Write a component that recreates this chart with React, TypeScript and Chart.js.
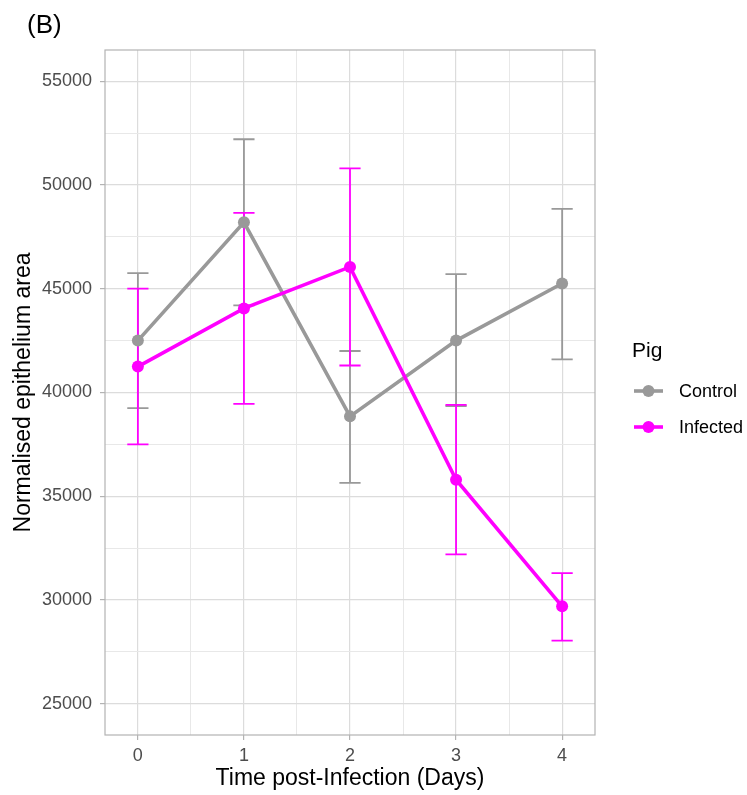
import React, { useEffect, useRef } from "react";
import { Chart, registerables } from "chart.js";

Chart.register(...registerables);

const days = [0, 1, 2, 3, 4];
const controlMean = [42500, 48200, 38850, 42500, 45250];
const controlUpper = [45750, 52200, 42000, 45700, 48850];
const controlLower = [39250, 44200, 35650, 39350, 41600];
const infectedMean = [41250, 44050, 46050, 35800, 29700];
const infectedUpper = [45000, 48650, 50800, 39400, 31300];
const infectedLower = [37500, 39450, 41300, 32200, 28050];

const xMajorTicks = [0, 1, 2, 3, 4];
const xMinorTicks = [0.5, 1.5, 2.5, 3.5];
const yMajorTicks = [25000, 30000, 35000, 40000, 45000, 50000, 55000];
const yMinorTicks = [27500, 32500, 37500, 42500, 47500, 52500];

const seriesNames = ["Control", "Infected"];
const seriesColors = ["#999999", "#ff00ff"];

const FONT = "'Liberation Sans', Arial, Helvetica, sans-serif";

export default function App() {
  const ref = useRef<HTMLCanvasElement>(null);

  useEffect(() => {
    document.body.style.margin = "0";
    const canvas = ref.current!;
    const series = [
      { mean: controlMean, up: controlUpper, lo: controlLower },
      { mean: infectedMean, up: infectedUpper, lo: infectedLower },
    ];

    const errorBars = {
      id: "errorBars",
      beforeDatasetsDraw(chart: any) {
        const ctx = chart.ctx;
        const xs = chart.scales.x;
        const ys = chart.scales.y;
        ctx.save();
        series.forEach((s, si) => {
          ctx.strokeStyle = seriesColors[si];
          ctx.lineWidth = 1.8;
          days.forEach((d, i) => {
            const x = xs.getPixelForValue(d);
            const xl = xs.getPixelForValue(d - 0.1);
            const xr = xs.getPixelForValue(d + 0.1);
            const yu = ys.getPixelForValue(s.up[i]);
            const yl = ys.getPixelForValue(s.lo[i]);
            ctx.beginPath();
            ctx.moveTo(x, yu);
            ctx.lineTo(x, yl);
            ctx.moveTo(xl, yu);
            ctx.lineTo(xr, yu);
            ctx.moveTo(xl, yl);
            ctx.lineTo(xr, yl);
            ctx.stroke();
          });
        });
        ctx.restore();
      },
    };

    const decorations = {
      id: "decorations",
      afterDraw(chart: any) {
        const ctx = chart.ctx;
        const a = chart.chartArea;
        ctx.save();
        // panel border
        ctx.strokeStyle = "#b3b3b3";
        ctx.lineWidth = 1.2;
        ctx.strokeRect(a.left, a.top, a.right - a.left, a.bottom - a.top);
        // (B)
        ctx.fillStyle = "#000";
        ctx.textBaseline = "middle";
        ctx.textAlign = "left";
        ctx.font = `26px ${FONT}`;
        ctx.fillText("(B)", 27, 26);
        // x title
        ctx.textAlign = "center";
        ctx.font = `23px ${FONT}`;
        ctx.fillText("Time post-Infection (Days)", (a.left + a.right) / 2, 779);
        // y title
        ctx.save();
        ctx.translate(24, (a.top + a.bottom) / 2);
        ctx.rotate(-Math.PI / 2);
        ctx.fillText("Normalised epithelium area", 0, 0);
        ctx.restore();
        // legend
        ctx.textAlign = "left";
        ctx.font = `21px ${FONT}`;
        ctx.fillText("Pig", 632, 351);
        const ys = [391, 427];
        seriesNames.forEach((n, i) => {
          ctx.strokeStyle = seriesColors[i];
          ctx.fillStyle = seriesColors[i];
          ctx.lineWidth = 3.6;
          ctx.beginPath();
          ctx.moveTo(634, ys[i]);
          ctx.lineTo(663, ys[i]);
          ctx.stroke();
          ctx.beginPath();
          ctx.arc(648.5, ys[i], 6, 0, Math.PI * 2);
          ctx.fill();
          ctx.fillStyle = "#000";
          ctx.font = `18px ${FONT}`;
          ctx.fillText(n, 679, ys[i] + 1);
        });
        ctx.restore();
      },
    };

    const isMajorX = (v: number) => xMajorTicks.includes(v);
    const isMajorY = (v: number) => yMajorTicks.includes(v);

    const chart = new Chart(canvas, {
      type: "line",
      data: {
        datasets: series.map((s, si) => ({
          label: seriesNames[si],
          data: days.map((d, i) => ({ x: d, y: s.mean[i] })),
          borderColor: seriesColors[si],
          backgroundColor: seriesColors[si],
          borderWidth: 3.6,
          pointRadius: 6,
          pointBorderWidth: 0,
          pointBackgroundColor: seriesColors[si],
          tension: 0,
          order: 2 - si,
        })),
      },
      options: {
        animation: false,
        responsive: false,
        maintainAspectRatio: false,
        events: [],
        layout: { padding: { left: 0, top: 50, right: 152, bottom: 0 } },
        plugins: {
          legend: { display: false },
          tooltip: { enabled: false },
          title: { display: false },
        },
        scales: {
          x: {
            type: "linear",
            min: -0.31,
            max: 4.31,
            afterBuildTicks: (scale: any) => {
              scale.ticks = [...xMajorTicks, ...xMinorTicks]
                .sort((a, b) => a - b)
                .map((v) => ({ value: v }));
            },
            afterFit: (scale: any) => {
              scale.height = 60;
            },
            border: { display: false },
            grid: {
              color: (c: any) => (isMajorX(c.tick?.value) ? "#dcdcdc" : "#e8e8e8"),
              lineWidth: (c: any) => (isMajorX(c.tick?.value) ? 1.2 : 1),
              tickColor: (c: any) => (isMajorX(c.tick?.value) ? "#b3b3b3" : "rgba(0,0,0,0)"),
              tickLength: 5,
              tickWidth: 1.2,
            },
            ticks: {
              autoSkip: false,
              maxRotation: 0,
              padding: 5,
              color: "#4d4d4d",
              font: { family: FONT, size: 18 },
              callback: (v: any) => (isMajorX(Number(v)) ? String(v) : ""),
            },
          },
          y: {
            type: "linear",
            min: 23500,
            max: 56500,
            afterBuildTicks: (scale: any) => {
              scale.ticks = [...yMajorTicks, ...yMinorTicks]
                .sort((a, b) => a - b)
                .map((v) => ({ value: v }));
            },
            afterFit: (scale: any) => {
              scale.width = 105;
            },
            border: { display: false },
            grid: {
              color: (c: any) => (isMajorY(c.tick?.value) ? "#dcdcdc" : "#e8e8e8"),
              lineWidth: (c: any) => (isMajorY(c.tick?.value) ? 1.2 : 1),
              tickColor: (c: any) => (isMajorY(c.tick?.value) ? "#b3b3b3" : "rgba(0,0,0,0)"),
              tickLength: 5,
              tickWidth: 1.2,
            },
            ticks: {
              autoSkip: false,
              padding: 8,
              color: "#4d4d4d",
              font: { family: FONT, size: 18 },
              callback: (v: any) => (isMajorY(Number(v)) ? String(v) : ""),
            },
          },
        },
      },
      plugins: [errorBars, decorations],
    });
    return () => chart.destroy();
  }, []);

  return (
    <div style={{ width: 747, height: 795, background: "#fff" }}>
      <canvas ref={ref} width={747} height={795} style={{ display: "block" }} />
    </div>
  );
}
